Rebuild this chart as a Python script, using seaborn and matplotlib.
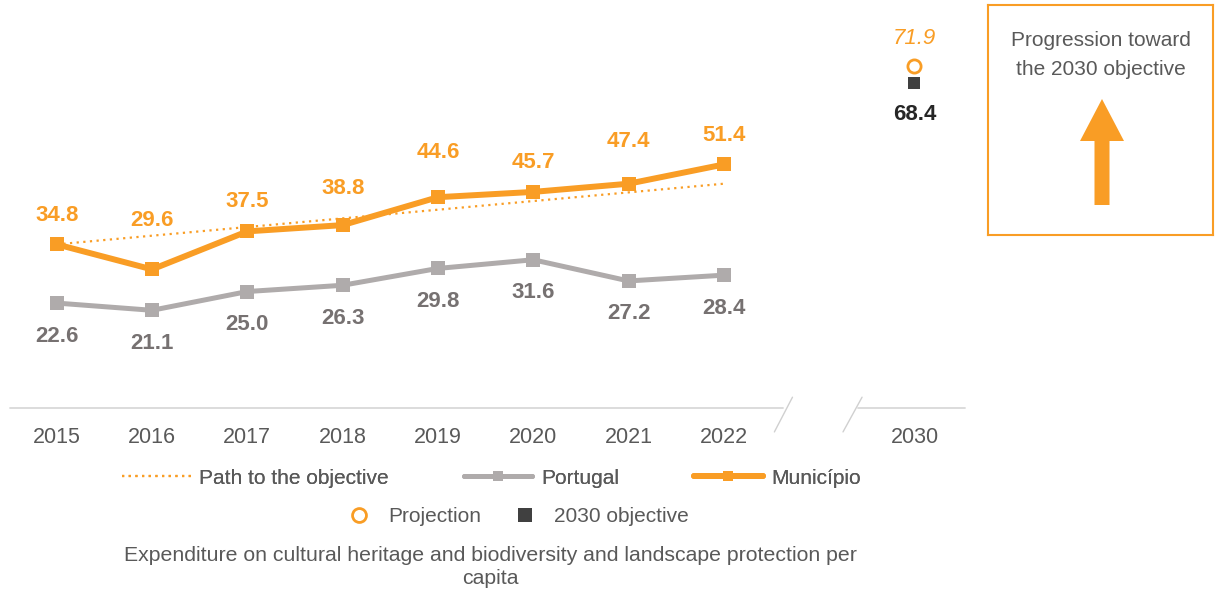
import numpy as np
import pandas as pd
import seaborn as sns
import matplotlib.pyplot as plt
from matplotlib.lines import Line2D
from matplotlib.patches import FancyArrow

years = ['2015', '2016', '2017', '2018', '2019', '2020', '2021', '2022']
target_year = '2030'
municipio = [34.8, 29.6, 37.5, 38.8, 44.6, 45.7, 47.4, 51.4]
portugal = [22.6, 21.1, 25.0, 26.3, 29.8, 31.6, 27.2, 28.4]
path_objective = [34.8, 36.6, 38.4, 40.2, 42.0, 43.8, 45.6, 47.4]
projection_2030 = 71.9
objective_2030 = 68.4

ORANGE = '#F99D25'
GREY = '#AFABAB'
GREY_TXT = '#767171'
DARK = '#404040'
TXT = '#595959'

sns.set_theme(style='white')
plt.rcParams['font.family'] = ['Liberation Sans', 'DejaVu Sans']

pos = np.arange(len(years))
pos_2030 = len(years) + 1

fig = plt.figure(figsize=(12.16, 5.90), dpi=100)
ax = fig.add_axes([10 / 1216, 1 - 408 / 590, 955 / 1216, 386 / 590])

sns.lineplot(x=pos, y=path_objective, ax=ax, color=ORANGE, linewidth=1.6,
             linestyle=(0, (1, 2)), zorder=2)
sns.lineplot(x=pos, y=portugal, ax=ax, color=GREY, linewidth=3.6, marker='s',
             markersize=9.5, markeredgewidth=0, zorder=3)
sns.lineplot(x=pos, y=municipio, ax=ax, color=ORANGE, linewidth=4.3, marker='s',
             markersize=9.5, markeredgewidth=0, zorder=4)
sns.scatterplot(x=[pos_2030], y=[objective_2030], ax=ax, marker='s', s=72,
                color=DARK, linewidth=0, zorder=4)
sns.scatterplot(x=[pos_2030], y=[projection_2030], ax=ax, marker='o', s=90,
                facecolor='white', edgecolor=ORANGE, linewidth=2, zorder=5)

# labels (Município labels are staggered in the original)
mun_offsets = [29, 49, 30, 37, 45, 29, 42, 29]
for x, v, off in zip(pos, municipio, mun_offsets):
    ax.annotate(f'{v:.1f}', (x, v), xytext=(0, off), textcoords='offset pixels',
                ha='center', va='center', fontsize=16, fontweight='bold', color=ORANGE)
for x, v in zip(pos, portugal):
    ax.annotate(f'{v:.1f}', (x, v), xytext=(0, -33), textcoords='offset pixels',
                ha='center', va='center', fontsize=16, fontweight='bold', color=GREY_TXT)
ax.annotate(f'{projection_2030:.1f}', (pos_2030, projection_2030), xytext=(0, 27),
            textcoords='offset pixels', ha='center', va='center', fontsize=16,
            fontstyle='italic', color=ORANGE)
ax.annotate(f'{objective_2030:.1f}', (pos_2030, objective_2030), xytext=(0, -32),
            textcoords='offset pixels', ha='center', va='center', fontsize=16,
            fontweight='bold', color='#262626')

ax.set_xlim(-0.49, 9.53)
ax.set_ylim(0.8, 81.0)
for s in ax.spines.values():
    s.set_visible(False)
ax.set_yticks([])
ax.set_xticks(list(pos) + [pos_2030])
ax.set_xticklabels(years + [target_year], fontsize=15.5, color=TXT)
ax.tick_params(axis='x', length=0, pad=14)
ax.set_xlabel('')
ax.set_ylabel('')

# broken baseline
tr = ax.get_xaxis_transform()
ax.plot([-0.49, 7.62], [0, 0], color='#D9D9D9', lw=1.3, transform=tr, clip_on=False)
ax.plot([8.41, 9.53], [0, 0], color='#D9D9D9', lw=1.3, transform=tr, clip_on=False)
ax.plot([7.53, 7.72], [-0.062, 0.028], color='#D0D0D0', lw=1.0, transform=tr, clip_on=False)
ax.plot([8.25, 8.45], [-0.062, 0.028], color='#D0D0D0', lw=1.0, transform=tr, clip_on=False)

# legends
h1 = [Line2D([], [], color=ORANGE, lw=1.6, linestyle=(0, (1, 2))),
      Line2D([], [], color=GREY, lw=3.6, marker='s', markersize=7, markeredgewidth=0),
      Line2D([], [], color=ORANGE, lw=4.3, marker='s', markersize=7, markeredgewidth=0)]
leg1 = fig.legend(h1, ['Path to the objective', 'Portugal', 'Município'], loc='center',
                  bbox_to_anchor=(0.404, 1 - 478 / 590), ncol=3, frameon=False,
                  fontsize=15, labelcolor=TXT, handlelength=3.3, handletextpad=0.4,
                  columnspacing=3.6)
h2 = [Line2D([], [], linestyle='none', marker='o', markersize=10, markerfacecolor='white',
             markeredgecolor=ORANGE, markeredgewidth=2),
      Line2D([], [], linestyle='none', marker='s', markersize=10, color=DARK,
             markeredgewidth=0)]
fig.legend(h2, ['Projection', '2030 objective'], loc='center',
           bbox_to_anchor=(0.426, 1 - 517 / 590), ncol=2, frameon=False, fontsize=15,
           labelcolor=TXT, handlelength=1.2, handletextpad=0.8, columnspacing=1.5)
fig.add_artist(leg1)

fig.text(0.403, 1 - 567 / 590,
         'Expenditure on cultural heritage and biodiversity and landscape protection per\ncapita',
         ha='center', va='center', fontsize=15.3, color=TXT, linespacing=1.25)

# progression box
bax = fig.add_axes([988 / 1216, 1 - 235 / 590, 225 / 1216, 230 / 590])
bax.set_xlim(988, 1213)
bax.set_ylim(235, 5)
bax.set_xticks([])
bax.set_yticks([])
bax.set_facecolor('white')
for s in bax.spines.values():
    s.set_visible(True)
    s.set_color(ORANGE)
    s.set_linewidth(1.5)
bax.text(1101, 55, 'Progression toward\nthe 2030 objective', ha='center', va='center',
         fontsize=15, color=TXT, linespacing=1.65)
bax.add_patch(FancyArrow(1102, 205, 0, -106, width=15, head_width=44, head_length=42,
                         length_includes_head=True, color=ORANGE, linewidth=0))

fig.savefig('out.png', dpi=100)
